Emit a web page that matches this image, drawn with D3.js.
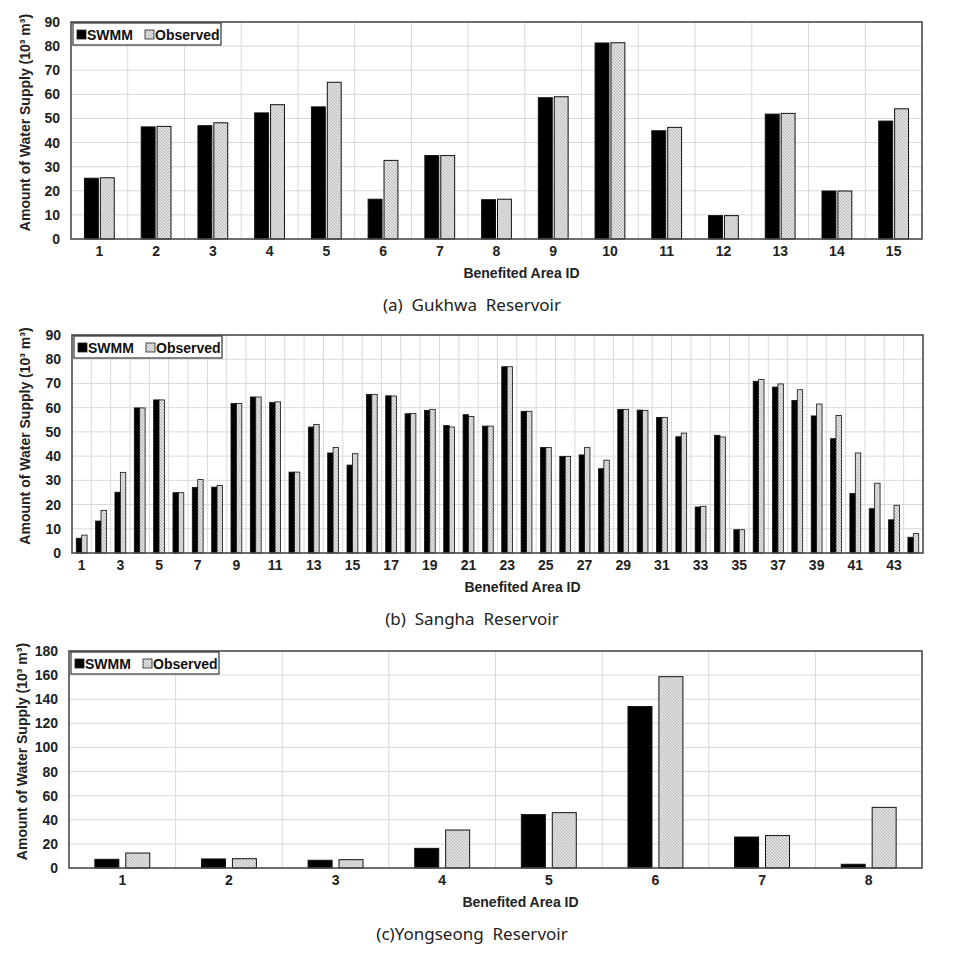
<!DOCTYPE html>
<html>
<head>
<meta charset="utf-8">
<script src="https://cdn.jsdelivr.net/npm/d3@7"></script>
<style>
  body { margin: 0; background: #fff; }
  svg text { font-family: "Liberation Sans", Arial, sans-serif; }
  .caption { font-family: "Noto Sans", sans-serif !important; }
</style>
</head>
<body>
<div id="chart"></div>
<script>
// Data
var GUKHWA_IDS = [1, 2, 3, 4, 5, 6, 7, 8, 9, 10, 11, 12, 13, 14, 15];
var GUKHWA_SWMM = [25.2, 46.5, 47.0, 52.3, 54.8, 16.5, 34.6, 16.3, 58.6, 81.3, 44.9, 9.7, 51.8, 19.9, 48.9];
var GUKHWA_OBS = [25.4, 46.7, 48.2, 55.7, 65.0, 32.6, 34.6, 16.5, 59.0, 81.4, 46.3, 9.7, 52.1, 19.9, 54.0];

var SANGHA_IDS = [1, 2, 3, 4, 5, 6, 7, 8, 9, 10, 11, 12, 13, 14, 15, 16, 17, 18, 19, 20, 21, 22,
  23, 24, 25, 26, 27, 28, 29, 30, 31, 32, 33, 34, 35, 36, 37, 38, 39, 40, 41, 42, 43, 44];
var SANGHA_SWMM = [6.1, 13.2, 25.1, 59.9, 63.2, 24.9, 27.1, 27.2, 61.7, 64.4, 62.2, 33.4, 52.0, 41.3,
  36.3, 65.5, 64.9, 57.5, 58.9, 52.6, 57.1, 52.4, 76.9, 58.5, 43.6, 39.9, 40.5, 34.8, 59.3, 59.0,
  55.9, 48.0, 19.0, 48.6, 9.6, 70.9, 68.5, 63.0, 56.6, 47.2, 24.6, 18.3, 13.7, 6.5];
var SANGHA_OBS = [7.4, 17.6, 33.3, 59.9, 63.2, 24.9, 30.3, 27.9, 61.7, 64.4, 62.4, 33.4, 53.1, 43.6,
  41.0, 65.5, 64.8, 57.6, 59.3, 52.0, 56.4, 52.4, 76.9, 58.5, 43.6, 39.9, 43.5, 38.3, 59.3, 58.9,
  56.0, 49.5, 19.3, 47.9, 9.6, 71.6, 69.8, 67.4, 61.5, 56.8, 41.3, 28.8, 19.7, 8.0];

var YONGSEONG_IDS = [1, 2, 3, 4, 5, 6, 7, 8];
var YONGSEONG_SWMM = [7.2, 7.5, 6.4, 16.3, 44.3, 133.9, 25.7, 3.1];
var YONGSEONG_OBS = [12.4, 7.7, 6.9, 31.5, 45.9, 158.7, 26.9, 50.3];

var SERIES_NAMES = ["SWMM", "Observed"];
var Y_TITLE = "Amount of Water Supply (10\u00b3 m\u00b3)";
var X_TITLE = "Benefited Area ID";

var svg = d3.select("#chart")
  .append("svg")
  .attr("width", 964)
  .attr("height", 957);

// hatch pattern for Observed bars
var defs = svg.append("defs");
var pattern = defs.append("pattern")
  .attr("id", "hatch")
  .attr("patternUnits", "userSpaceOnUse")
  .attr("width", 3)
  .attr("height", 3);
pattern.append("rect").attr("width", 3).attr("height", 3).attr("fill", "#e6e6e6");
pattern.append("path")
  .attr("d", "M0,0 L3,3 M-1,2 L1,4 M2,-1 L4,1")
  .attr("stroke", "#9a9a9a")
  .attr("stroke-width", 0.7);

var drawPanel = function(config) {
  var g = svg.append("g");
  var ids = config.ids;
  var rows = ids.map(function(id, i) {
    return { id: id, values: [config.swmm[i], config.obs[i]] };
  });

  var xScale = d3.scaleBand()
    .domain(ids)
    .range([config.left, config.right])
    .padding(0);

  var yScale = d3.scaleLinear()
    .domain([0, config.ymax])
    .range([config.bottom, config.top]);

  var step = xScale.bandwidth();
  var barW = step * config.barFrac;
  var gapW = step * config.gapFrac;

  // grid
  var yTicks = d3.range(0, config.ymax + 1, config.ystep);
  g.append("g")
    .selectAll("line")
    .data(yTicks.slice(1, -1))
    .enter()
    .append("line")
    .attr("x1", config.left)
    .attr("x2", config.right)
    .attr("y1", d => yScale(d))
    .attr("y2", d => yScale(d))
    .attr("stroke", "#d9d9d9")
    .attr("stroke-width", 1);

  g.append("g")
    .selectAll("line")
    .data(ids.slice(1))
    .enter()
    .append("line")
    .attr("x1", d => xScale(d))
    .attr("x2", d => xScale(d))
    .attr("y1", config.top)
    .attr("y2", config.bottom)
    .attr("stroke", "#d9d9d9")
    .attr("stroke-width", 1);

  // bars
  var groups = g.append("g")
    .selectAll("g")
    .data(rows)
    .enter()
    .append("g")
    .attr("transform", d => "translate(" + (xScale(d.id) + step / 2) + ",0)");

  groups.selectAll("rect")
    .data(d => d.values)
    .enter()
    .append("rect")
    .attr("x", (d, i) => i === 0 ? -gapW / 2 - barW : gapW / 2)
    .attr("width", barW)
    .attr("y", d => yScale(d))
    .attr("height", d => config.bottom - yScale(d))
    .attr("fill", (d, i) => i === 0 ? "#000" : "url(#hatch)")
    .attr("stroke", "#111")
    .attr("stroke-width", config.strokeW);

  // frame
  g.append("rect")
    .attr("x", config.left)
    .attr("y", config.top)
    .attr("width", config.right - config.left)
    .attr("height", config.bottom - config.top)
    .attr("fill", "none")
    .attr("stroke", "#4a4a4a")
    .attr("stroke-width", 1.6);

  // axes
  var yAxis = d3.axisLeft(yScale)
    .tickValues(yTicks)
    .tickSize(0)
    .tickPadding(11);
  var yAxisG = g.append("g")
    .attr("transform", "translate(" + config.left + ",0)")
    .call(yAxis);
  yAxisG.select(".domain").remove();
  yAxisG.selectAll("text")
    .attr("font-size", 14)
    .attr("font-weight", "bold")
    .attr("fill", "#222");

  var xAxis = d3.axisBottom(xScale)
    .tickSize(0)
    .tickPadding(0)
    .tickFormat((d, i) => i % config.labelEvery === 0 ? d : "");
  var xAxisG = g.append("g")
    .attr("transform", "translate(0," + (config.bottom + 7) + ")")
    .call(xAxis);
  xAxisG.select(".domain").remove();
  xAxisG.selectAll("text")
    .attr("font-size", 14)
    .attr("font-weight", "bold")
    .attr("fill", "#222");

  // titles
  g.append("text")
    .attr("x", (config.left + config.right) / 2 + 25)
    .attr("y", config.bottom + 39)
    .attr("text-anchor", "middle")
    .attr("font-size", 14)
    .attr("font-weight", "bold")
    .attr("fill", "#222")
    .text(X_TITLE);

  g.append("text")
    .attr("transform", "translate(" + config.yTitleX + "," + ((config.top + config.bottom) / 2 - 8) + ") rotate(-90)")
    .attr("text-anchor", "middle")
    .attr("font-size", 14)
    .attr("font-weight", "bold")
    .attr("fill", "#222")
    .text(Y_TITLE);

  g.append("text")
    .attr("class", "caption")
    .attr("x", 472)
    .attr("y", config.bottom + 72)
    .attr("text-anchor", "middle")
    .attr("font-size", 17)
    .attr("fill", "#222")
    .style("white-space", "pre")
    .text(config.caption);

  // legend
  var lg = g.append("g")
    .attr("transform", "translate(" + (config.left + 2) + "," + (config.top + 1) + ")");
  lg.append("rect")
    .attr("width", 148)
    .attr("height", 22)
    .attr("fill", "#fff")
    .attr("stroke", "#333")
    .attr("stroke-width", 1.2);
  var items = lg.selectAll("g")
    .data(SERIES_NAMES)
    .enter()
    .append("g")
    .attr("transform", (d, i) => "translate(" + (i === 0 ? 4 : 72) + ",0)");
  items.append("rect")
    .attr("x", 0)
    .attr("y", 7)
    .attr("width", 9)
    .attr("height", 9)
    .attr("fill", (d, i) => i === 0 ? "#000" : "url(#hatch)")
    .attr("stroke", "#222")
    .attr("stroke-width", 0.8);
  items.append("text")
    .attr("x", 10)
    .attr("y", 16.5)
    .attr("font-size", 14)
    .attr("font-weight", "bold")
    .attr("fill", "#111")
    .text(d => d);
};

drawPanel({
  ids: GUKHWA_IDS, swmm: GUKHWA_SWMM, obs: GUKHWA_OBS,
  left: 71, right: 922, top: 22, bottom: 239,
  ymax: 90, ystep: 10, labelEvery: 1,
  barFrac: 0.245, gapFrac: 0.035, strokeW: 1,
  yTitleX: 30,
  caption: "(a)  Gukhwa  Reservoir"
});

drawPanel({
  ids: SANGHA_IDS, swmm: SANGHA_SWMM, obs: SANGHA_OBS,
  left: 72, right: 923, top: 335, bottom: 553,
  ymax: 90, ystep: 10, labelEvery: 2,
  barFrac: 0.28, gapFrac: 0, strokeW: 0.8,
  yTitleX: 30,
  caption: "(b)  Sangha  Reservoir"
});

drawPanel({
  ids: YONGSEONG_IDS, swmm: YONGSEONG_SWMM, obs: YONGSEONG_OBS,
  left: 69, right: 922, top: 651, bottom: 868,
  ymax: 180, ystep: 20, labelEvery: 1,
  barFrac: 0.225, gapFrac: 0.065, strokeW: 1,
  yTitleX: 27,
  caption: "(c)Yongseong  Reservoir"
});
</script>
</body>
</html>
